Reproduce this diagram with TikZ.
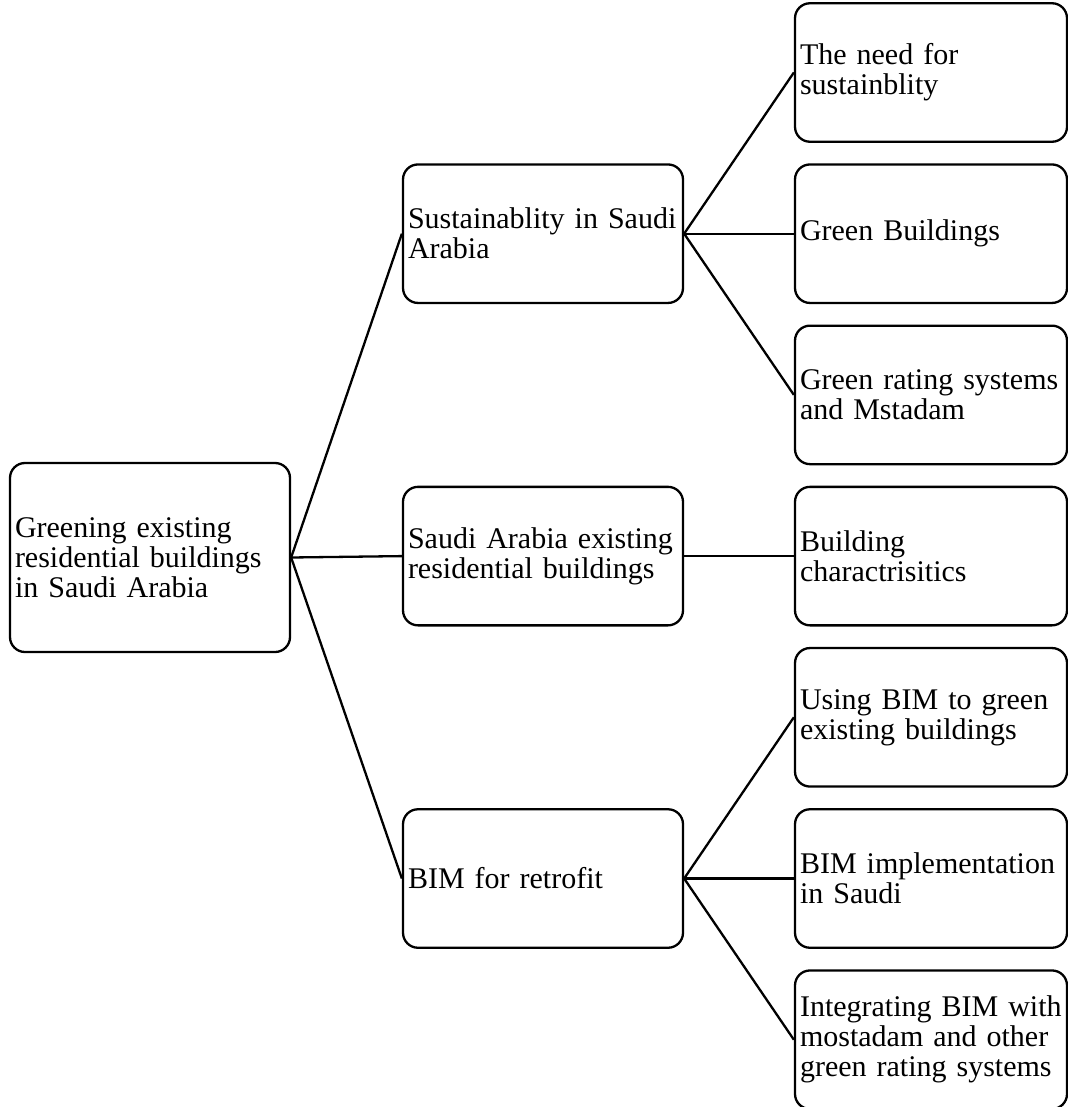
\documentclass[tikz,border=0pt]{standalone}
\usepackage{fontspec}
\setmainfont{Liberation Serif}
\begin{document}
\begin{tikzpicture}[x=0.5pt, y=-0.5pt,
	  box/.style={draw, line width=1.15pt, rounded corners=7.5pt, align=left, inner xsep=2.5pt, inner ysep=0pt, font=\fontsize{15}{15}\selectfont},
	  midbox/.style={box, text width=135pt, minimum height=69.25pt},
	  leafbox/.style={box, text width=131pt, minimum height=69.25pt},
	  link/.style={line width=1.15pt}]
	  \useasboundingbox (0,0) rectangle (1068,1107);
	  % root and main topics
	  \node[box, text width=135pt, minimum height=94.5pt] (root) at (150,557.5) {Greening existing\\residential buildings\\in Saudi Arabia};
	  \node[midbox] (sust) at (543,233.7) {Sustainablity in Saudi\\Arabia};
	  \node[midbox] (exist) at (543,556.1) {Saudi Arabia existing\\residential buildings};
	  \node[midbox] (bim) at (543,878.5) {BIM for retrofit};
	  % sub topics
	  \node[leafbox] (need) at (931,72.5) {The need for\\sustainblity};
	  \node[leafbox] (green) at (931,233.7) {Green Buildings};
	  \node[leafbox] (rating) at (931,394.9) {Green rating systems\\and Mstadam};
	  \node[leafbox] (charac) at (931,556.1) {Building\\charactrisitics};
	  \node[leafbox] (usebim) at (931,717.3) {Using BIM to green\\existing buildings};
	  \node[leafbox] (impl) at (931,878.5) {BIM implementation\\in Saudi};
	  \node[leafbox] (integ) at (931,1039.7) {Integrating BIM with\\mostadam and other\\green rating systems};
	  \draw[link] (root.east) -- (sust.west);
	  \draw[link] (root.east) -- (exist.west);
	  \draw[link] (root.east) -- (bim.west);
	  \foreach \leaf in {need, green, rating}
	    \draw[link] (sust.east) -- (\leaf.west);
	  \draw[link] (exist.east) -- (charac.west);
	  \foreach \leaf in {usebim, impl, integ}
	    \draw[link] (bim.east) -- (\leaf.west);
\end{tikzpicture}
\end{document}
